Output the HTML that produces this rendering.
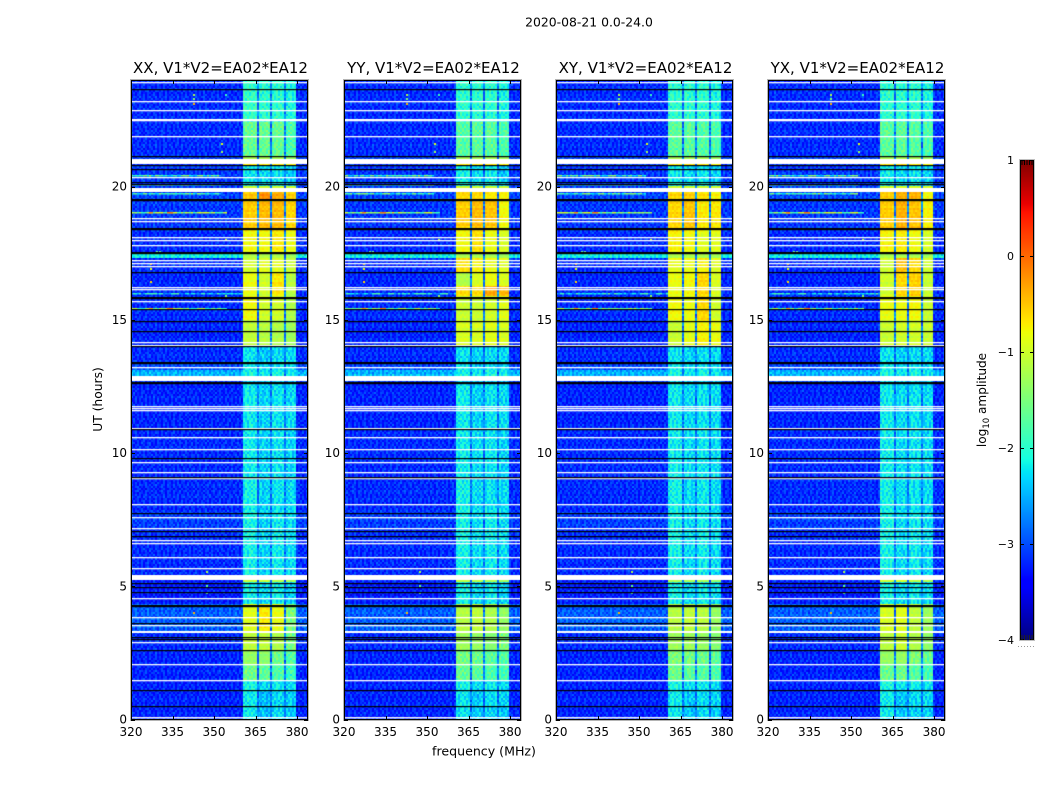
<!DOCTYPE html>
<html lang="en">
<head>
<meta charset="utf-8">
<title>2020-08-21 amplitude spectrograms</title>
<style>
html,body{margin:0;padding:0;background:#fff;}
#figure{position:relative;width:1050px;height:800px;overflow:hidden;background:#fff;font-family:"DejaVu Sans","Liberation Sans",sans-serif;}
canvas{position:absolute;display:block;}
#overlay{position:absolute;left:0;top:0;}
#overlay text{font-family:"DejaVu Sans","Liberation Sans",sans-serif;fill:#000;}
</style>
</head>
<body>
<div id="figure">
<svg id="overlay" width="1050" height="800" viewBox="0 0 1050 800">
<text x="589" y="26.5" text-anchor="middle" font-size="12.4">2020-08-21 0.0-24.0</text>
<text x="484" y="755.5" text-anchor="middle" font-size="12.6">frequency (MHz)</text>
<text transform="translate(102,399.5) rotate(-90)" text-anchor="middle" font-size="12.3">UT (hours)</text>
<text transform="translate(986,400) rotate(-90)" text-anchor="middle" font-size="12.1">log<tspan font-size="8.5" dy="3">10</tspan><tspan dy="-3"> amplitude</tspan></text>
</svg>
</div>
<script>
// ---- data (log10 amplitude) ----
const panelTitles = ["XX, V1*V2=EA02*EA12","YY, V1*V2=EA02*EA12","XY, V1*V2=EA02*EA12","YX, V1*V2=EA02*EA12"];
const panelKeys = ["xx","yy","xy","yx"];
const freqTicks = [320,335,350,365,380];
const hourTicks = [0,5,10,15,20];
const colorTicks = [1,0,-1,-2,-3,-4];

// time segments (start hour) with background level
const segmentStart = [0,0.52,1.11,1.48,2.07,2.61,3.26,4.29,5.11,5.30,7.07,7.8,9.06,10.9,12.65,12.89,13.05,13.41,14.0,14.99,15.85,16.27,16.78,17.32,17.54,18.44,19.49,19.8,19.98,20.77,20.86,21.13,22.4];
const backgroundLevel = [-3.22,-3.22,-3.22,-3.22,-3.22,-3.18,-2.92,-3.26,-3.22,-3.18,-3.08,-3.18,-3.18,-3.22,-3.08,-2.5,-3.02,-3.18,-3.22,-3.18,-3.18,-3.22,-3.18,-2.15,-3.18,-3.12,-3.06,-3.06,-3.12,-3.12,-3.06,-3.18,-3.18];

// levels in the four sub-bands for every time segment
const xxLevels = [[-2.2,-2.45,-2.3,-2.4],[-2.2,-2.45,-2.3,-2.35],[-2.1,-2.3,-2.2,-2.3],[-1.6,-1.7,-1.8,-1.9],[-1.35,-1.4,-1.6,-1.75],[-1.1,-1.1,-1.2,-1.55],[-0.9,-0.7,-0.85,-1.5],[-2.15,-2.3,-2.15,-2.35],[-1.0,-1.0,-1.1,-1.2],[-2.15,-2.35,-2.2,-2.3],[-2.15,-2.35,-2.2,-2.3],[-2.15,-2.35,-2.25,-2.3],[-2.2,-2.35,-2.25,-2.35],[-2.2,-2.35,-2.25,-2.3],[-2.4,-2.4,-2.4,-2.5],[-2.1,-2.2,-2.1,-2.2],[-2.25,-2.35,-2.3,-2.3],[-2.25,-2.4,-2.3,-2.3],[-1.1,-1.15,-1.2,-1.3],[-0.8,-1.0,-1.0,-1.2],[-0.85,-1.0,-0.7,-1.15],[-0.85,-1.0,-0.7,-1.15],[-1.0,-0.9,-0.9,-1.05],[-1.2,-1.2,-1.2,-1.3],[-0.8,-0.8,-0.7,-0.85],[-0.55,-0.45,-0.45,-0.6],[-0.5,-0.2,-0.35,-0.55],[-1,-1,-1,-1],[-2.25,-2.3,-2.25,-2.4],[-0.6,-0.6,-0.6,-0.7],[-1.2,-1.2,-1.2,-1.3],[-1.65,-1.65,-1.65,-1.8],[-1.95,-2.0,-2.0,-2.1]];
const yyLevels = [[-2.25,-2.4,-2.35,-2.4],[-2.25,-2.4,-2.3,-2.35],[-2.15,-2.3,-2.2,-2.3],[-1.65,-1.7,-1.8,-1.85],[-1.55,-1.6,-1.7,-1.75],[-1.3,-1.35,-1.45,-1.5],[-1.15,-1.1,-1.2,-1.35],[-2.15,-2.3,-2.2,-2.35],[-1.15,-1.15,-1.25,-1.3],[-2.15,-2.3,-2.2,-2.3],[-2.15,-2.3,-2.2,-2.3],[-2.15,-2.3,-2.25,-2.3],[-2.2,-2.3,-2.25,-2.35],[-2.2,-2.35,-2.25,-2.3],[-2.4,-2.4,-2.4,-2.5],[-2.15,-2.2,-2.1,-2.2],[-2.2,-2.35,-2.25,-2.3],[-2.25,-2.35,-2.3,-2.3],[-0.95,-0.95,-0.9,-0.95],[-1.05,-1.05,-1.0,-0.9],[-0.6,-0.6,-0.3,-0.4],[-1.2,-0.95,-0.85,-0.95],[-0.65,-0.75,-0.85,-0.9],[-1.2,-1.2,-1.2,-1.25],[-0.8,-0.65,-0.85,-0.95],[-0.55,-0.45,-0.5,-0.8],[-0.6,-0.6,-0.7,-0.75],[-1,-1,-1,-1],[-2.15,-2.3,-2.2,-2.4],[-0.7,-0.7,-0.7,-0.75],[-1.25,-1.25,-1.25,-1.3],[-1.75,-1.7,-1.7,-1.8],[-2.0,-2.0,-2.0,-2.1]];
const xyLevels = [[-2.2,-2.4,-2.3,-2.35],[-2.2,-2.4,-2.3,-2.35],[-2.1,-2.25,-2.2,-2.3],[-1.6,-1.7,-1.75,-1.8],[-1.5,-1.55,-1.6,-1.7],[-1.3,-1.3,-1.35,-1.45],[-1.15,-1.1,-1.15,-1.35],[-2.15,-2.3,-2.2,-2.3],[-1.15,-1.15,-1.2,-1.3],[-2.15,-2.3,-2.2,-2.3],[-2.15,-2.3,-2.2,-2.3],[-2.15,-2.3,-2.2,-2.3],[-2.2,-2.3,-2.25,-2.3],[-2.2,-2.3,-2.25,-2.3],[-2.35,-2.4,-2.4,-2.45],[-2.1,-2.2,-2.1,-2.2],[-2.2,-2.3,-2.25,-2.3],[-2.25,-2.35,-2.3,-2.3],[-1.05,-0.9,-0.75,-0.85],[-0.8,-0.85,-0.6,-1.0],[-0.85,-0.8,-0.6,-0.95],[-0.85,-0.8,-0.6,-0.95],[-0.85,-0.85,-0.75,-0.9],[-1.2,-1.2,-1.2,-1.25],[-0.75,-0.8,-0.9,-0.9],[-0.6,-0.5,-0.7,-0.7],[-0.6,-0.55,-0.65,-0.75],[-1,-1,-1,-1],[-2.2,-2.3,-2.25,-2.35],[-0.7,-0.7,-0.7,-0.8],[-1.25,-1.25,-1.25,-1.3],[-1.7,-1.7,-1.75,-1.8],[-2.0,-2.0,-2.0,-2.1]];
const yxLevels = [[-2.2,-2.4,-2.35,-2.35],[-2.2,-2.4,-2.3,-2.3],[-2.1,-2.25,-2.2,-2.25],[-1.6,-1.6,-1.75,-1.85],[-1.35,-1.35,-1.5,-1.65],[-1.15,-1.05,-1.2,-1.4],[-0.95,-0.9,-1.1,-1.3],[-2.15,-2.3,-2.2,-2.3],[-1.05,-1.05,-1.15,-1.25],[-2.15,-2.3,-2.2,-2.3],[-2.15,-2.3,-2.2,-2.3],[-2.15,-2.3,-2.25,-2.3],[-2.2,-2.3,-2.25,-2.3],[-2.2,-2.3,-2.25,-2.3],[-2.35,-2.4,-2.4,-2.45],[-2.1,-2.2,-2.1,-2.2],[-2.2,-2.3,-2.25,-2.3],[-2.25,-2.35,-2.3,-2.3],[-1.05,-1.0,-1.0,-1.05],[-0.85,-0.85,-0.8,-1.05],[-1.0,-0.6,-0.55,-1.05],[-1.0,-0.6,-0.55,-1.05],[-1.0,-0.45,-0.6,-1.0],[-1.2,-1.2,-1.2,-1.25],[-0.75,-0.7,-0.8,-0.95],[-0.55,-0.4,-0.5,-0.75],[-0.55,-0.4,-0.4,-0.8],[-1,-1,-1,-1],[-2.2,-2.3,-2.25,-2.35],[-0.7,-0.65,-0.7,-0.8],[-1.25,-1.25,-1.25,-1.3],[-1.7,-1.7,-1.75,-1.8],[-2.0,-2.0,-2.0,-2.1]];
const panelLevels = {xx:xxLevels,yy:yyLevels,xy:xyLevels,yx:yxLevels};

// receiver band: sub-band edges and notch frequencies (MHz)
const subbandStart = [360.3,365.8,370.9,375.9];
const subbandEnd = [364.9,370.0,375.0,379.6];
const notchLevel = -2.8;

// channel-to-channel and row-to-row ripple
const channelRipple = [.04,-.06,.09,-.03,-.1,.07,.02,-.08,.11,-.04,.05,-.09,.03,.08,-.07,-.02,.1,-.11,.06,-.05,.01,.09,-.08,.04,-.03,.07,-.1,.12,-.06,.02,-.04,.08,.05,-.09,.03,-.07,.1,-.02,-.05,.06,.09,-.08,.01,-.11,.07,.03,-.04,.08,-.06,.05,-.09,.02,.1,-.03,-.07,.06,.04,-.1,.08,-.01,-.05,.09,-.08,.03,.07,-.06,.02,-.04,.1,-.09,.05,.01,-.07,.08,-.03,.06,-.1,.04,.09,-.05,-.02,.07,-.08,.03,.11,-.06,.01,-.04,.05];
const rowRipple = [.1,-.08,.03,.14,-.12,.06,-.02,.09,-.15,.05,.12,-.07,.01,-.1,.13,.04,-.06,.08,-.13,.02,.11,-.04,-.09,.07,.15,-.11,.03,-.05,.1,-.14,.06,.02,-.08,.12,-.03,.09,-.12,.04,-.01,.13,-.1,.07,-.06,.11,.02,-.15,.08,-.03,.05,-.09,.14,-.07,.01,.1,-.12,.06,-.04,.09,.03,-.13,.12,-.02,-.08,.07,.15,-.1,.04,-.06,.11,-.14,.02,.08,-.05,.13,-.09,.01,.06,-.11,.1,-.03,.05,-.07,.14,-.12,.03,.09,-.01,-.1,.12,-.06,.07,-.13,.04,.11,-.08,.02,-.04];

// flagged rows
const flaggedLines = [0.03,0.10,1.48,2.07,2.91,3.53,3.83,4.55,5.69,6.09,6.62,6.75,7.17,7.59,8.07,9.06,9.28,9.65,10.14,10.59,10.95,11.61,11.69,11.76,13.22,14.05,14.15,15.69,16.17,16.24,17.02,17.13,17.23,17.79,17.99,18.09,18.70,18.81,20.34,21.90,22.48,22.55,22.87,23.19,23.92];
const flaggedBlockStart = [3.26,5.23,12.71,19.79,20.86];
const flaggedBlockEnd = [3.33,5.42,12.89,19.96,21.05];
const zeroLines = [0.52,1.11,2.61,3.01,3.08,3.61,4.27,4.31,4.80,4.96,5.11,6.87,7.07,7.74,9.11,9.80,10.90,12.63,12.67,13.39,13.43,14.00,14.58,14.96,15.40,15.81,15.86,16.78,17.50,17.54,18.41,18.45,19.48,19.52,20.08,20.17,20.64,20.79,21.13,23.66];

// narrow-band interference
const rfiHour = [20.45,20.08,19.77,19.03,19.03,19.03,15.43,15.43,15.43,16.0];
const rfiStart = [320,320,320,320,326.6,333.2,320,326.6,333.2,320];
const rfiEnd = [352,352,352,354,327.4,334.8,354,327.4,334.8,360];
const rfiLevel = [-1.9,-1.7,-1.9,-1.4,-0.2,-0.1,-1.6,-0.3,-0.1,-2.3];

// isolated bright pixels
const hotHour = [23.42,23.3,23.1,23.42,21.6,21.3,17.55,17.55,18.0,15.9,16.4,16.9,17.1,4.0,5.0,4.75,5.55];
const hotFreq = [342.4,342.4,342.4,354,352.6,352.6,329.2,330,354,354,327,327,327,342.4,347,347,347];
const hotValue = [-1.2,-1.5,-0.4,-1.9,-0.9,-1.3,-1.6,-1.6,-1.1,-1.4,-0.6,-0.9,-0.4,-0.4,-1.7,-1.6,-1.2];

// ---- layout ----
const FREQ_MIN = 320, MHZ_PX = 2.767, HOUR_MIN = 0, HOUR_PX = 26.65;
const AXES_TOP = 80, AXES_H = 640, AXES_W = 177;
const axesLefts = [131,344,556,768];
const CHANNEL_MHZ = 0.72, CHANNELS = 89, ROW_HOURS = 0.075, ROWS = 320;
const CB_LEFT = 1020, CB_TOP = 160, CB_W = 14, CB_H = 480, V_MIN = -4, V_MAX = 1;
const figure = document.getElementById('figure');
const overlay = document.getElementById('overlay');
const SVGNS = 'http://www.w3.org/2000/svg';

function xScale(f){ return (f - FREQ_MIN) * MHZ_PX; }
function yScale(h){ return AXES_H - 0.5 - (h - HOUR_MIN) * HOUR_PX; }
function piece(t, pts){
  for (let i = 1; i < pts.length; i++) {
    if (t <= pts[i][0]) {
      const a = pts[i-1], b = pts[i];
      return a[1] + (b[1]-a[1]) * (t-a[0]) / (b[0]-a[0]);
    }
  }
  return pts[pts.length-1][1];
}
function jet(v){
  const t = Math.max(0, Math.min(1, (v - V_MIN) / (V_MAX - V_MIN)));
  const r = piece(t, [[0,0],[.35,0],[.66,1],[.89,1],[1,.5]]);
  const g = piece(t, [[0,0],[.125,0],[.375,1],[.64,1],[.91,0],[1,0]]);
  const b = piece(t, [[0,.5],[.11,1],[.34,1],[.65,0],[1,0]]);
  return 'rgb(' + Math.round(r*255) + ',' + Math.round(g*255) + ',' + Math.round(b*255) + ')';
}
function segmentIndex(h){
  let s = 0;
  for (let i = 0; i < segmentStart.length; i++) { if (segmentStart[i] <= h) s = i; }
  return s;
}
function cellLevel(levels, seg, f){
  const bg = backgroundLevel[seg];
  if (f < subbandStart[0] || f >= subbandEnd[3]) return bg;
  for (let k = 0; k < 4; k++) {
    if (f >= subbandStart[k] && f < subbandEnd[k]) return levels[seg][k];
  }
  return Math.min(notchLevel, levels[seg][0] - 0.2);
}
function addText(parent, x, y, str, anchor, size){
  const t = document.createElementNS(SVGNS, 'text');
  t.setAttribute('x', x);
  t.setAttribute('y', y);
  t.setAttribute('text-anchor', anchor);
  t.setAttribute('font-size', size);
  t.textContent = str;
  parent.appendChild(t);
  return t;
}
function addLine(parent, x1, y1, x2, y2, color){
  const l = document.createElementNS(SVGNS, 'line');
  l.setAttribute('x1', x1);
  l.setAttribute('y1', y1);
  l.setAttribute('x2', x2);
  l.setAttribute('y2', y2);
  l.setAttribute('stroke', color);
  l.setAttribute('stroke-width', 1);
  parent.appendChild(l);
  return l;
}

// ---- heatmaps ----
panelKeys.forEach(function(key, p){
  const left = axesLefts[p];
  const levels = panelLevels[key];
  const c = document.createElement('canvas');
  c.width = AXES_W;
  c.height = AXES_H;
  c.style.left = left + 'px';
  c.style.top = AXES_TOP + 'px';
  
  
  figure.insertBefore(c, overlay);
  const g = c.getContext('2d');
  g.fillStyle = jet(-3.2);
  g.fillRect(0, 0, AXES_W, AXES_H);
  const N = channelRipple.length;
  for (let r = 0; r < ROWS; r++) {
    const h = HOUR_MIN + r * ROW_HOURS;
    const seg = segmentIndex(h);
    const yTop = Math.round(yScale(h + ROW_HOURS));
    const yBot = Math.round(yScale(h));
    for (let ch = 0; ch < CHANNELS; ch++) {
      const f = FREQ_MIN + ch * CHANNEL_MHZ;
      const level = cellLevel(levels, seg, f);
      const gain = level > -1.5 ? 0.9 : 2.6;
      const speck = channelRipple[(ch + r * 37 + (r * r) % N + p * 11) % N];
      const v = level + gain * speck + 0.5 * rowRipple[(r + p * 7) % rowRipple.length];
      const xL = Math.round(xScale(f));
      const xR = Math.round(xScale(f + CHANNEL_MHZ));
      g.fillStyle = jet(v);
      g.fillRect(xL, yTop, xR - xL, yBot - yTop);
    }
  }
  // interference rows, broken up channel by channel
  rfiHour.forEach(function(h, i){
    for (let ch = 0; ch < CHANNELS; ch++) {
      const f = FREQ_MIN + ch * CHANNEL_MHZ;
      if (f + CHANNEL_MHZ <= rfiStart[i] || f >= rfiEnd[i]) continue;
      const spread = rfiEnd[i] - rfiStart[i] < 3 ? 0 : 6;
      g.fillStyle = jet(rfiLevel[i] + spread * channelRipple[(ch * 3 + i * 13 + p * 5) % N]);
      g.fillRect(Math.round(xScale(f)), Math.round(yScale(h)), Math.round(xScale(f + CHANNEL_MHZ)) - Math.round(xScale(f)), 1.5);
    }
  });
  // bright pixels
  hotHour.forEach(function(h, i){
    g.fillStyle = jet(hotValue[i]);
    g.fillRect(Math.round(xScale(hotFreq[i])), Math.round(yScale(h + ROW_HOURS/2)), 2, 2);
  });
  // flagged (blank) and zero (black) rows
  g.fillStyle = '#fff';
  flaggedLines.forEach(function(h){
    const y = Math.round(yScale(h));
    g.fillRect(0, y, AXES_W, 1.3);
  });
  flaggedBlockStart.forEach(function(h, i){
    const y0 = Math.round(yScale(flaggedBlockEnd[i]));
    g.fillRect(0, y0, AXES_W, Math.round(yScale(h)) - y0);
  });
  g.fillStyle = '#000';
  zeroLines.forEach(function(h){
    const y = Math.round(yScale(h));
    g.fillRect(0, y, AXES_W, 1.2);
  });

  // frame, ticks, labels
  const axisGroup = document.createElementNS(SVGNS, 'g');
  
  
  overlay.appendChild(axisGroup);

  const halo = document.createElementNS(SVGNS, 'rect');
  halo.setAttribute('x', left - 0.5);
  halo.setAttribute('y', AXES_TOP - 0.5);
  halo.setAttribute('width', AXES_W + 1);
  halo.setAttribute('height', AXES_H + 1);
  halo.setAttribute('fill', 'none');
  halo.setAttribute('stroke', '#b4b4b4');
  
  
  axisGroup.appendChild(halo);

  const frame = document.createElementNS(SVGNS, 'rect');
  frame.setAttribute('x', left + 0.5);
  frame.setAttribute('y', AXES_TOP + 0.5);
  frame.setAttribute('width', AXES_W - 1);
  frame.setAttribute('height', AXES_H - 1);
  frame.setAttribute('fill', 'none');
  frame.setAttribute('stroke', '#000');
  
  
  axisGroup.appendChild(frame);

  const title = addText(axisGroup, left + AXES_W/2 + 1, AXES_TOP - 7, panelTitles[p], 'middle', 15);
  
  

  freqTicks.forEach(function(f){
    const x = Math.round(left + xScale(f)) + 0.5;
    const tb = addLine(axisGroup, x, AXES_TOP + AXES_H, x, AXES_TOP + AXES_H - 4, '#000');
    
    
    const tt = addLine(axisGroup, x, AXES_TOP, x, AXES_TOP + 4, '#000');
    
    
    const lab = addText(axisGroup, left + xScale(f), AXES_TOP + AXES_H + 16, String(f), 'middle', 12);
    
    
  });
  hourTicks.forEach(function(h){
    const y = Math.round(AXES_TOP + yScale(h)) + 0.5;
    const tl = addLine(axisGroup, left, y, left + 4, y, '#000');
    
    
    const tr = addLine(axisGroup, left + AXES_W, y, left + AXES_W - 4, y, '#000');
    
    
    const lab = addText(axisGroup, left - 4, AXES_TOP + yScale(h) + 4, String(h), 'end', 12);
    
    
  });
});

// ---- colour bar ----
const cb = document.createElement('canvas');
cb.width = CB_W;
cb.height = CB_H;
cb.style.left = CB_LEFT + 'px';
cb.style.top = CB_TOP + 'px';


figure.insertBefore(cb, overlay);
const cbg = cb.getContext('2d');
for (let r = 0; r < CB_H; r++) {
  cbg.fillStyle = jet(V_MAX - (r + 0.5) / CB_H * (V_MAX - V_MIN));
  cbg.fillRect(0, r, CB_W, 1);
}
function cbY(v){ return CB_TOP + (V_MAX - v) / (V_MAX - V_MIN) * CB_H; }
const cbGroup = document.createElementNS(SVGNS, 'g');


overlay.appendChild(cbGroup);
const cbHalo = document.createElementNS(SVGNS, 'rect');
cbHalo.setAttribute('x', CB_LEFT - 0.5);
cbHalo.setAttribute('y', CB_TOP - 0.5);
cbHalo.setAttribute('width', CB_W + 1);
cbHalo.setAttribute('height', CB_H + 1);
cbHalo.setAttribute('fill', 'none');
cbHalo.setAttribute('stroke', '#c0c0c0');


cbGroup.appendChild(cbHalo);
const cbFrameL = addLine(cbGroup, CB_LEFT + 0.5, CB_TOP, CB_LEFT + 0.5, CB_TOP + CB_H, '#000');


const cbFrameR = addLine(cbGroup, CB_LEFT + CB_W - 0.5, CB_TOP, CB_LEFT + CB_W - 0.5, CB_TOP + CB_H, '#000');


colorTicks.forEach(function(v){
  const y = Math.min(Math.round(cbY(v)), CB_TOP + CB_H - 1) + 0.5;
  const t1 = addLine(cbGroup, CB_LEFT, y, CB_LEFT + 4, y, '#000');
  
  
  const t2 = addLine(cbGroup, CB_LEFT + CB_W, y, CB_LEFT + CB_W - 4, y, '#000');
  
  
  const lab = addText(cbGroup, CB_LEFT - 6, cbY(v) + 4, v < 0 ? '\u2212' + Math.abs(v) : String(v), 'end', 11);
  
  
});
for (let x = CB_LEFT + 2; x < CB_LEFT + CB_W - 1; x += 2.5) {
  const mt = addLine(cbGroup, x, CB_TOP, x, CB_TOP + 5, '#000');
  
  
  const mb = addLine(cbGroup, x, CB_TOP + CB_H, x, CB_TOP + CB_H - 5, '#222');
  
  
}
for (let x = CB_LEFT - 2; x < CB_LEFT + CB_W + 1; x += 3) {
  const dot = addLine(cbGroup, x, CB_TOP + CB_H + 6.5, x + 1, CB_TOP + CB_H + 6.5, '#999');
  
  
}
</script>
</body>
</html>
